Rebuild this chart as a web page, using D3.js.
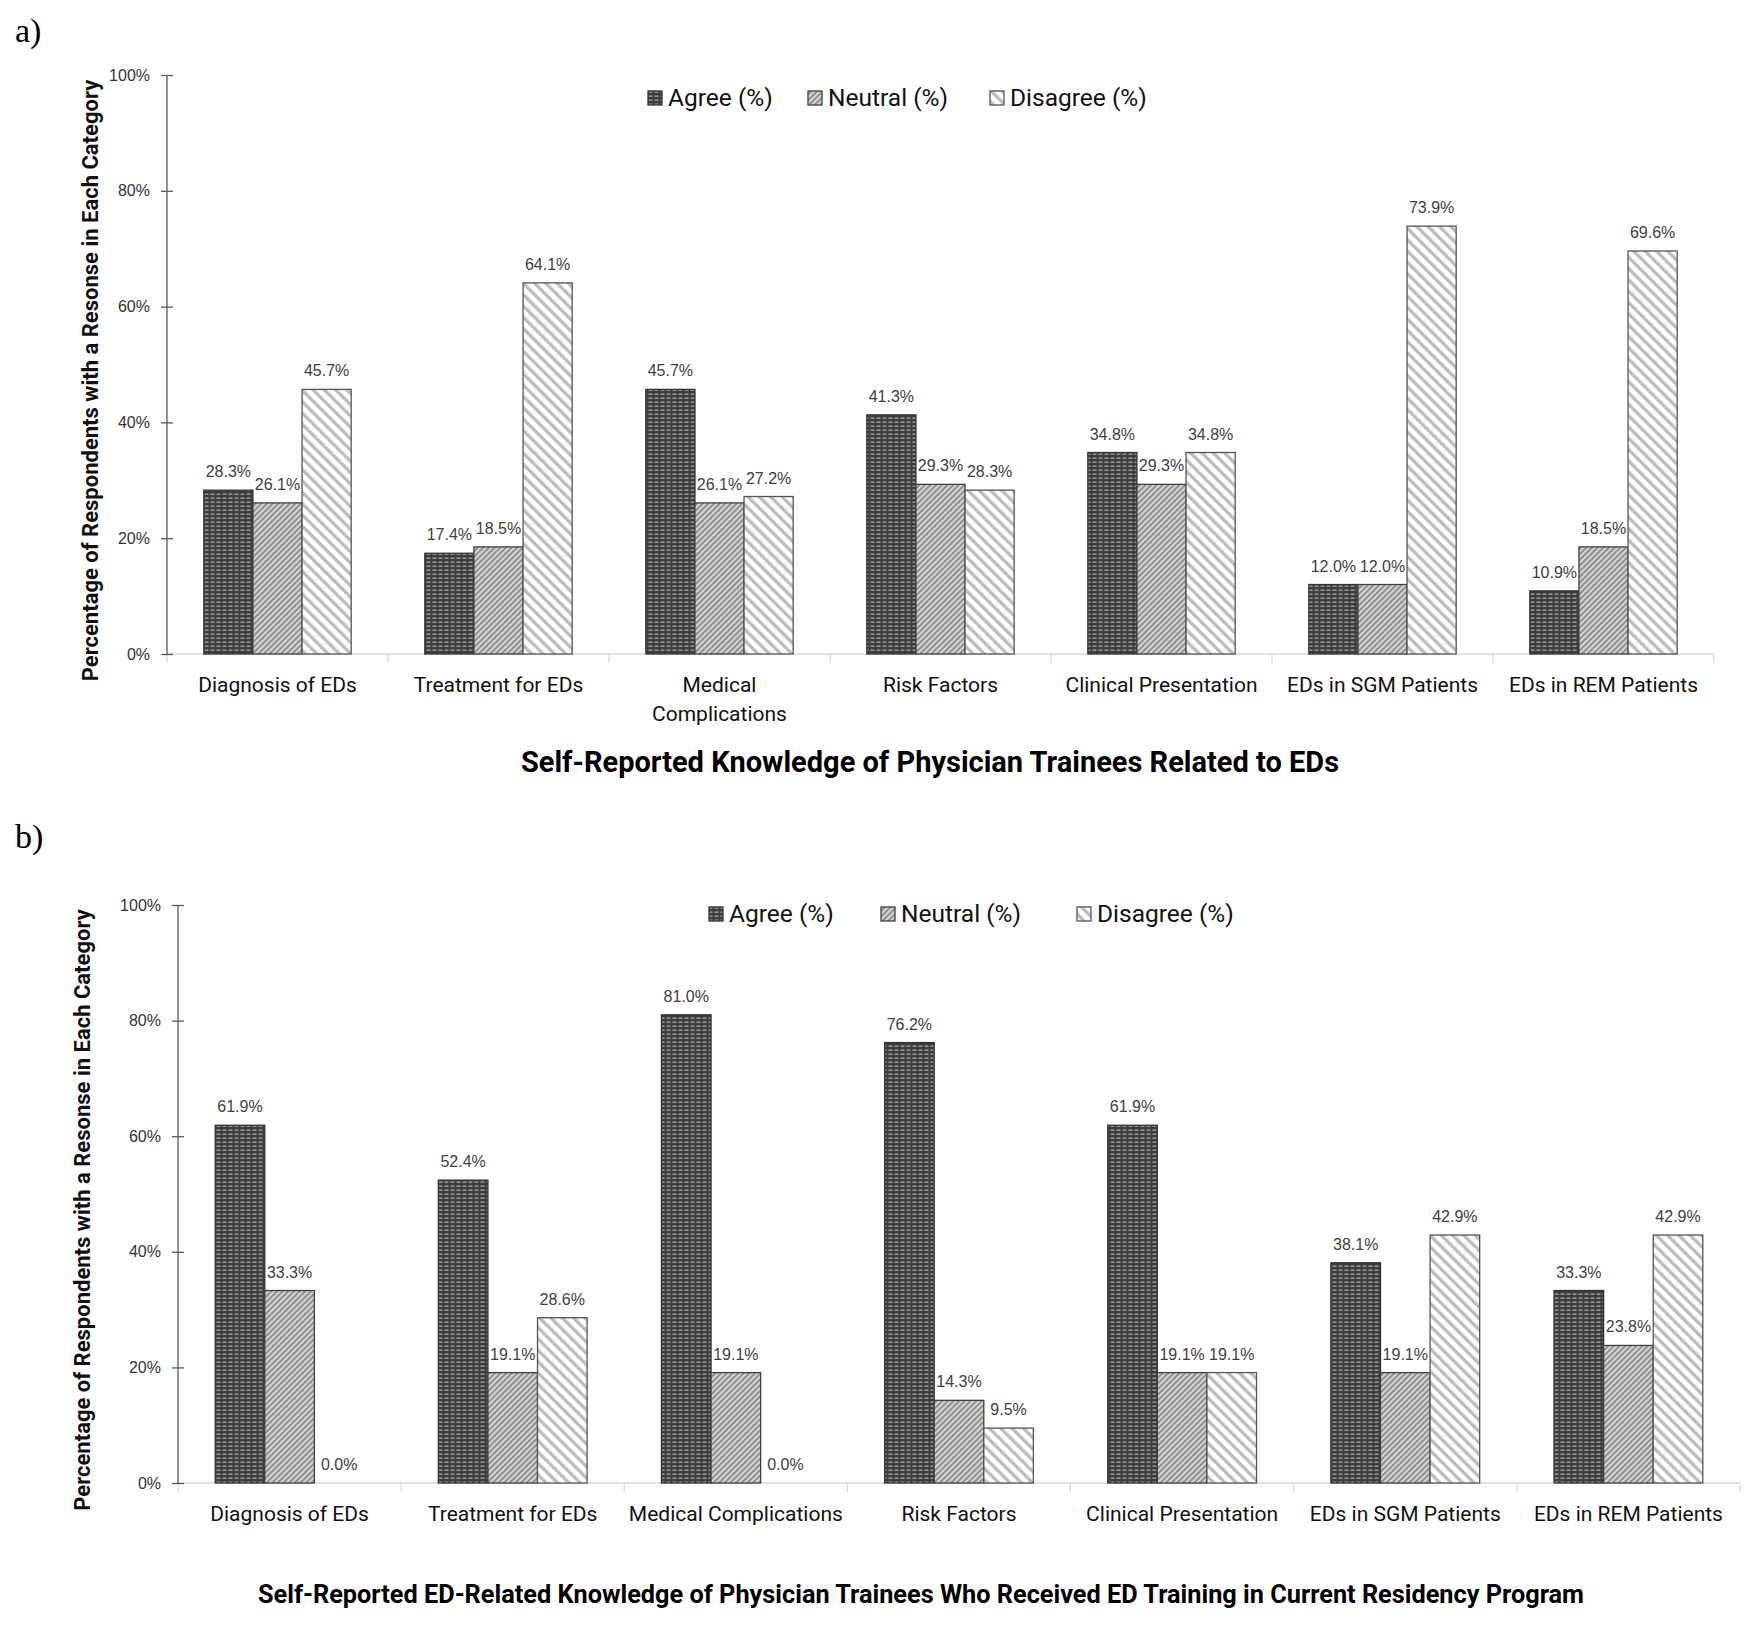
<!DOCTYPE html>
<html>
<head>
<meta charset="utf-8">
<script src="https://cdn.jsdelivr.net/npm/d3@7"></script>
<style>
  body { margin: 0; background: #fff; }
  svg { display: block; }
</style>
</head>
<body>
<div></div>
<script>
const w = 1760;
const h = 1626;

const categoriesA = [
  ['Diagnosis of EDs'],
  ['Treatment for EDs'],
  ['Medical', 'Complications'],
  ['Risk Factors'],
  ['Clinical Presentation'],
  ['EDs in SGM Patients'],
  ['EDs in REM Patients']
];
const categoriesB = [
  ['Diagnosis of EDs'],
  ['Treatment for EDs'],
  ['Medical Complications'],
  ['Risk Factors'],
  ['Clinical Presentation'],
  ['EDs in SGM Patients'],
  ['EDs in REM Patients']
];
const seriesNames = ['Agree (%)', 'Neutral (%)', 'Disagree (%)'];

// panel a
const agreeA = [28.3, 17.4, 45.7, 41.3, 34.8, 12.0, 10.9];
const neutralA = [26.1, 18.5, 26.1, 29.3, 29.3, 12.0, 18.5];
const disagreeA = [45.7, 64.1, 27.2, 28.3, 34.8, 73.9, 69.6];

// panel b
const agreeB = [61.9, 52.4, 81.0, 76.2, 61.9, 38.1, 33.3];
const neutralB = [33.3, 19.1, 19.1, 14.3, 19.1, 19.1, 23.8];
const disagreeB = [0.0, 28.6, 0.0, 9.5, 19.1, 42.9, 42.9];

const yTicks = [0, 20, 40, 60, 80, 100];

const titleA = 'Self-Reported Knowledge of Physician Trainees Related to EDs';
const titleB = 'Self-Reported ED-Related Knowledge of Physician Trainees Who Received ED Training in Current Residency Program';
const yTitle = 'Percentage of Respondents with a Resonse in Each Category';

const svg = d3
  .select('body')
  .select('div')
  .append('svg')
  .attr('width', w)
  .attr('height', h);

// fill patterns like the excel ones
const defs = svg.append('defs');

const pAgree = defs
  .append('pattern')
  .attr('id', 'pat-agree')
  .attr('patternUnits', 'userSpaceOnUse')
  .attr('width', 6)
  .attr('height', 4);
pAgree.append('rect').attr('width', 6).attr('height', 4).attr('fill', '#3d3d3d');
pAgree.append('rect').attr('x', 0.5).attr('y', 1.5).attr('width', 4).attr('height', 1.3).attr('fill', '#a6a6a6');

const pNeutral = defs
  .append('pattern')
  .attr('id', 'pat-neutral')
  .attr('patternUnits', 'userSpaceOnUse')
  .attr('width', 4)
  .attr('height', 10)
  .attr('patternTransform', 'rotate(45)');
pNeutral.append('rect').attr('width', 4).attr('height', 10).attr('fill', '#d4d4d4');
pNeutral.append('rect').attr('width', 1.8).attr('height', 10).attr('fill', '#8a8a8a');

const pDisagree = defs
  .append('pattern')
  .attr('id', 'pat-disagree')
  .attr('patternUnits', 'userSpaceOnUse')
  .attr('width', 8)
  .attr('height', 10)
  .attr('patternTransform', 'rotate(-45)');
pDisagree.append('rect').attr('width', 8).attr('height', 10).attr('fill', '#ffffff');
pDisagree.append('rect').attr('width', 3.4).attr('height', 10).attr('fill', '#bdbdbd');

const fills = ['url(#pat-agree)', 'url(#pat-neutral)', 'url(#pat-disagree)'];
const strokes = ['#333333', '#404040', '#555555'];

function drawPanel(p) {
  const g = svg.append('g');

  const x = d3
    .scaleBand()
    .domain(d3.range(p.categories.length))
    .range([p.x0, p.x1])
    .paddingInner(0)
    .paddingOuter(0);

  const xInner = d3
    .scaleBand()
    .domain([0, 1, 2])
    .range([0, x.bandwidth()])
    .paddingOuter(0.75);

  const y = d3.scaleLinear().domain([0, 100]).range([p.base, p.top]);

  // panel letter
  g.append('text')
    .attr('x', 15)
    .attr('y', p.letterY)
    .style('font-family', '"Liberation Serif", "Times New Roman", serif')
    .style('font-size', '34px')
    .text(p.letter);

  // baseline + category separators
  g.append('line')
    .attr('x1', p.x0)
    .attr('x2', p.x1)
    .attr('y1', y(0))
    .attr('y2', y(0))
    .style('stroke', '#d9d9d9')
    .style('stroke-width', 1.5);

  g.selectAll('.sep')
    .data(d3.range(p.categories.length + 1))
    .enter()
    .append('line')
    .attr('class', 'sep')
    .attr('x1', (d) => p.x0 + x.step() * d)
    .attr('x2', (d) => p.x0 + x.step() * d)
    .attr('y1', y(0))
    .attr('y2', y(0) + 9)
    .style('stroke', '#d9d9d9')
    .style('stroke-width', 1.2);

  // y axis
  const yAxis = d3
    .axisLeft(y)
    .tickValues(yTicks)
    .tickSize(6)
    .tickPadding(11)
    .tickFormat((d) => d + '%');

  const ya = g
    .append('g')
    .attr('transform', `translate(${p.x0}, 0)`)
    .call(yAxis);
  ya.select('.domain').attr('d', `M0,${p.top}V${p.base}`).style('stroke', '#595959').style('stroke-width', 1.3);
  ya.selectAll('.tick line').attr('x1', -6).attr('x2', 6).style('stroke', '#595959').style('stroke-width', 1.3);
  ya.selectAll('.tick text')
    .style('font-family', '"Liberation Sans", Arial, sans-serif')
    .style('font-size', '16px')
    .style('fill', '#333');

  // bars
  const series = [p.agree, p.neutral, p.disagree];
  series.forEach((vals, s) => {
    g.selectAll('.bar-' + s)
      .data(vals)
      .enter()
      .append('rect')
      .attr('class', 'bar-' + s)
      .attr('x', (d, i) => x(i) + xInner(s))
      .attr('y', (d) => y(d))
      .attr('width', xInner.bandwidth())
      .attr('height', (d) => y(0) - y(d))
      .style('fill', fills[s])
      .style('stroke', (d) => (d > 0 ? strokes[s] : 'none'))
      .style('stroke-width', 1.3);

    g.selectAll('.lbl-' + s)
      .data(vals)
      .enter()
      .append('text')
      .attr('class', 'lbl-' + s)
      .attr('x', (d, i) => x(i) + xInner(s) + xInner.bandwidth() / 2)
      .attr('y', (d) => y(d) - 13)
      .attr('text-anchor', 'middle')
      .style('font-family', '"Liberation Sans", Arial, sans-serif')
      .style('font-size', '16px')
      .style('fill', '#404040')
      .text((d) => d.toFixed(1) + '%');
  });

  // category labels
  const cat = g
    .selectAll('.cat')
    .data(p.categories)
    .enter()
    .append('text')
    .attr('class', 'cat')
    .attr('text-anchor', 'middle')
    .attr('y', p.catY)
    .style('font-family', 'Roboto, sans-serif')
    .style('font-size', '21px')
    .style('fill', '#111');
  cat
    .selectAll('tspan')
    .data((d, i) => d.map((t) => ({ t: t, i: i })))
    .enter()
    .append('tspan')
    .attr('x', (d) => x(d.i) + x.bandwidth() / 2)
    .attr('dy', (d, j) => (j === 0 ? 0 : 29))
    .text((d) => d.t);

  // legend
  const lg = g.append('g').attr('transform', `translate(0, ${p.legendY})`);
  seriesNames.forEach((name, s) => {
    lg.append('rect')
      .attr('x', p.legendBox[s])
      .attr('y', -7)
      .attr('width', 14)
      .attr('height', 14)
      .style('fill', fills[s])
      .style('stroke', strokes[s])
      .style('stroke-width', 1.3);
    lg.append('text')
      .attr('x', p.legendBox[s] + 20)
      .attr('y', 8)
      .style('font-family', 'Roboto, sans-serif')
      .style('font-size', '24.5px')
      .style('fill', '#111')
      .text(name);
  });

  // y title
  g.append('text')
    .attr('transform', `translate(${p.yTitleX}, ${(p.top + p.base) / 2 + 16}) rotate(-90)`)
    .attr('text-anchor', 'middle')
    .style('font-family', 'Roboto, sans-serif')
    .style('font-weight', 'bold')
    .style('font-size', '22px')
    .style('fill', '#111')
    .text(yTitle);

  // chart title
  g.append('text')
    .attr('x', p.titleX)
    .attr('y', p.titleY)
    .attr('text-anchor', 'middle')
    .style('font-family', 'Roboto, sans-serif')
    .style('font-weight', 'bold')
    .style('font-size', p.titleSize + 'px')
    .style('fill', '#000')
    .text(p.title);
}

drawPanel({
  letter: 'a)',
  letterY: 42,
  categories: categoriesA,
  agree: agreeA,
  neutral: neutralA,
  disagree: disagreeA,
  x0: 167,
  x1: 1714,
  top: 75,
  base: 654,
  catY: 692,
  legendY: 98,
  legendBox: [648, 808, 990],
  yTitleX: 98,
  title: titleA,
  titleSize: 29,
  titleX: 930,
  titleY: 772
});

drawPanel({
  letter: 'b)',
  letterY: 848,
  categories: categoriesB,
  agree: agreeB,
  neutral: neutralB,
  disagree: disagreeB,
  x0: 178,
  x1: 1740,
  top: 905,
  base: 1483,
  catY: 1521,
  legendY: 914,
  legendBox: [709, 881, 1077],
  yTitleX: 90,
  title: titleB,
  titleSize: 25.3,
  titleX: 921,
  titleY: 1603
});
</script>
</body>
</html>
